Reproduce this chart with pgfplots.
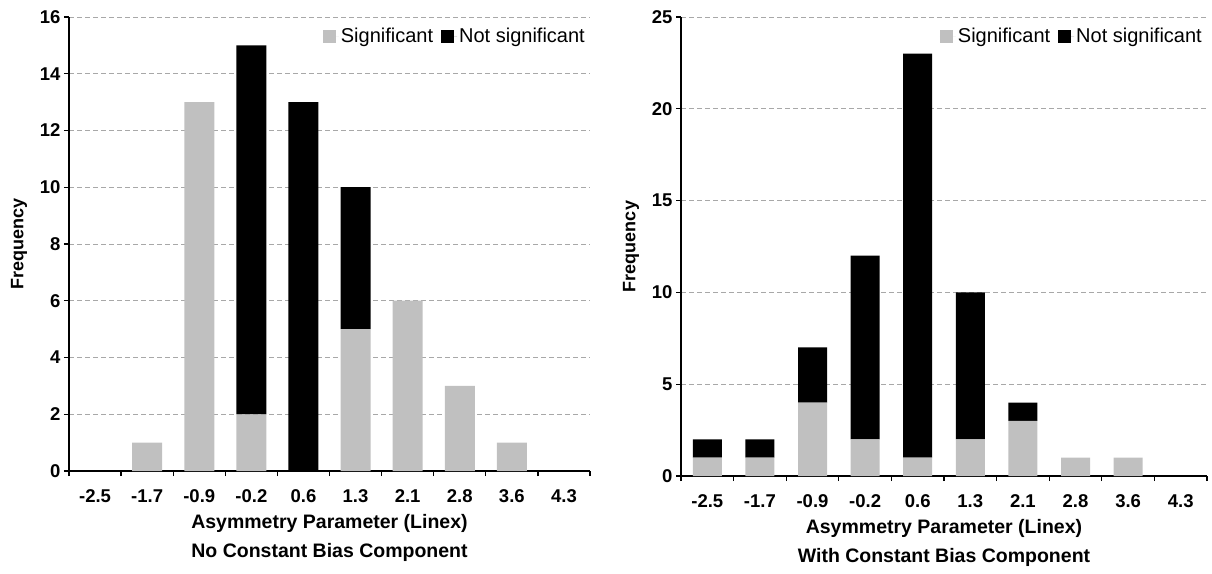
\documentclass[border=0pt]{standalone}
\usepackage{fontspec}
\setmainfont{Liberation Sans}
\usepackage{pgfplots}
\pgfplotsset{compat=1.18}
\definecolor{sig}{HTML}{C0C0C0}
\definecolor{gridc}{HTML}{A8A8A8}
\pgfplotsset{
  histo/.style={
    scale only axis,
    anchor=south west,
    ybar stacked,
    xmin=-0.5, xmax=9.5,
    ymin=0,
    axis x line*=bottom, axis y line*=left,
    axis line style={line width=1.3pt, black, -},
    xtick={-0.5,0.5,...,9.5},
    x tick label as interval,
    xticklabels={-2.5,-1.7,-0.9,-0.2,0.6,1.3,2.1,2.8,3.6,4.3},
    tick align=outside,
    major tick length=5pt,
    tick style={line width=1.3pt, black},
    ymajorgrids,
    xmajorgrids=false,
    grid style={gridc, line width=0.9pt, dash pattern=on 5pt off 3pt},
    /pgf/number format/assume math mode=true,
    ticklabel style={font=\fontsize{18.5}{21}\selectfont\bfseries},
    xticklabel style={yshift=-10pt},
    xlabel style={font=\fontsize{19.5}{26}\selectfont\bfseries, align=center, yshift=-5pt},
    ylabel style={font=\fontsize{18}{21}\selectfont\bfseries, yshift=6pt},
    legend style={at={(rel axis cs:1,1)}, anchor=north east, xshift=0pt, yshift=-7pt,
      draw=none, fill=none, legend columns=2,
      font=\fontsize{20}{24}\selectfont,
      /tikz/every even column/.append style={column sep=6pt}},
    legend cell align=left,
  },
  sq/.style={legend image code/.code={\fill[##1] (0pt,-6.5pt) rectangle (13pt,6.5pt); \path (0pt,0pt) -- (16pt,0pt);}},
}
\begin{document}
\begin{tikzpicture}
\useasboundingbox (0,0) rectangle (1212pt,573pt);
\begin{axis}[histo,
  at={(69pt,102pt)}, width=521pt, height=454pt,
  ymax=16, ytick={0,2,...,16},
  bar width=30pt,
  xlabel={Asymmetry Parameter (Linex)\\[3pt]No Constant Bias Component},
  ylabel={Frequency},
]
\addplot[fill=sig, draw=none, sq] coordinates {(0,0) (1,1) (2,13) (3,2) (4,0) (5,5) (6,6) (7,3) (8,1) (9,0)};
\addplot[fill=black, draw=none, sq] coordinates {(0,0) (1,0) (2,0) (3,13) (4,13) (5,5) (6,0) (7,0) (8,0) (9,0)};
\legend{Significant, Not significant}
\end{axis}
\begin{axis}[histo,
  at={(681pt,97pt)}, width=526pt, height=459pt,
  ymax=25, ytick={0,5,...,25},
  bar width=29pt,
  xlabel={Asymmetry Parameter (Linex)\\[3pt]With Constant Bias Component},
  ylabel={Frequency},
]
\addplot[fill=sig, draw=none, sq] coordinates {(0,1) (1,1) (2,4) (3,2) (4,1) (5,2) (6,3) (7,1) (8,1) (9,0)};
\addplot[fill=black, draw=none, sq] coordinates {(0,1) (1,1) (2,3) (3,10) (4,22) (5,8) (6,1) (7,0) (8,0) (9,0)};
\legend{Significant, Not significant}
\end{axis}
\end{tikzpicture}
\end{document}
